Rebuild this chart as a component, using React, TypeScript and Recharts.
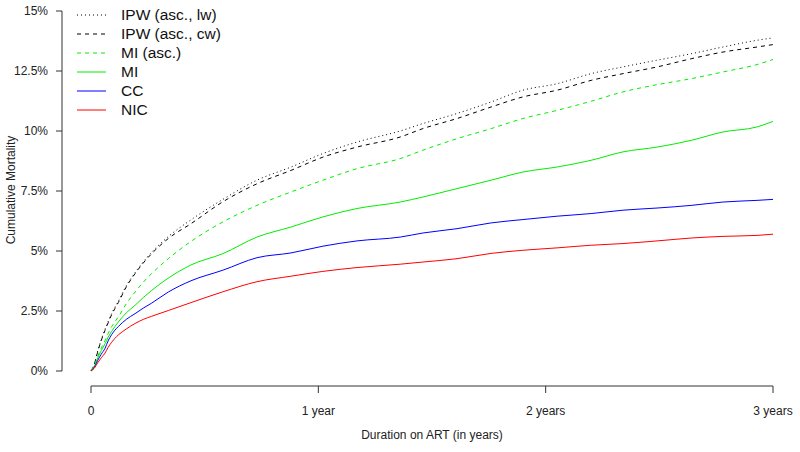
import React from 'react';
import { LineChart, Line, XAxis, YAxis, ReferenceLine } from 'recharts';

// years on ART
const years = [0, 0.015, 0.03, 0.045, 0.062, 0.075, 0.091, 0.105, 0.12, 0.155, 0.194, 0.23, 0.267, 0.34, 0.44, 0.58, 0.73, 0.88, 1.02, 1.17, 1.36, 1.46, 1.61, 1.76, 1.9, 2.05, 2.2, 2.34, 2.49, 2.64, 2.78, 2.93, 3.0];

// cumulative mortality, in %
const ipwLw = [0, 0.3, 0.85, 1.3, 1.75, 2.05, 2.4, 2.65, 2.9, 3.55, 4.1, 4.55, 4.95, 5.6, 6.3, 7.15, 7.95, 8.5, 9.06, 9.54, 10.0, 10.31, 10.73, 11.21, 11.7, 11.97, 12.39, 12.67, 12.95, 13.22, 13.5, 13.78, 13.88];
const ipwCw = [0, 0.3, 0.82, 1.27, 1.7, 2.0, 2.35, 2.6, 2.85, 3.5, 4.06, 4.5, 4.89, 5.52, 6.14, 7.05, 7.8, 8.36, 8.91, 9.33, 9.75, 10.1, 10.52, 11.0, 11.42, 11.7, 12.11, 12.39, 12.67, 13.01, 13.29, 13.5, 13.6];
const miAsc = [0, 0.22, 0.62, 0.95, 1.28, 1.55, 1.85, 2.05, 2.25, 2.8, 3.29, 3.7, 4.06, 4.68, 5.4, 6.21, 6.9, 7.46, 7.95, 8.43, 8.85, 9.2, 9.68, 10.1, 10.52, 10.86, 11.24, 11.63, 11.93, 12.18, 12.46, 12.77, 12.98];
const mi = [0, 0.2, 0.55, 0.85, 1.14, 1.4, 1.65, 1.85, 2.04, 2.42, 2.74, 3.06, 3.36, 3.87, 4.42, 4.89, 5.58, 6.0, 6.42, 6.77, 7.04, 7.25, 7.6, 7.95, 8.29, 8.5, 8.78, 9.13, 9.33, 9.61, 9.96, 10.17, 10.4];
const cc = [0, 0.16, 0.45, 0.7, 0.95, 1.25, 1.52, 1.7, 1.85, 2.15, 2.39, 2.62, 2.83, 3.29, 3.76, 4.2, 4.72, 4.92, 5.2, 5.42, 5.58, 5.75, 5.93, 6.17, 6.31, 6.45, 6.56, 6.7, 6.79, 6.9, 7.04, 7.11, 7.15];
const nic = [0, 0.12, 0.35, 0.55, 0.75, 0.98, 1.2, 1.36, 1.5, 1.75, 1.98, 2.15, 2.28, 2.52, 2.85, 3.3, 3.72, 3.95, 4.15, 4.31, 4.45, 4.54, 4.68, 4.9, 5.03, 5.13, 5.24, 5.31, 5.42, 5.54, 5.61, 5.65, 5.7];

const xTicks = [0, 1, 2, 3];
const xTickLabels = ['0', '1 year', '2 years', '3 years'];
const yTicks = [0, 2.5, 5, 7.5, 10, 12.5, 15];

const series = [
  { key: 'ipwLw', name: 'IPW (asc., lw)', color: '#000000', dash: '1 3' },
  { key: 'ipwCw', name: 'IPW (asc., cw)', color: '#000000', dash: '4 4' },
  { key: 'miAsc', name: 'MI (asc.)', color: '#00ee00', dash: '4 4' },
  { key: 'mi', name: 'MI', color: '#00ee00', dash: undefined },
  { key: 'cc', name: 'CC', color: '#0000ff', dash: undefined },
  { key: 'nic', name: 'NIC', color: '#ff0000', dash: undefined },
];

const data = years.map((t, i) => ({
  t,
  ipwLw: ipwLw[i],
  ipwCw: ipwCw[i],
  miAsc: miAsc[i],
  mi: mi[i],
  cc: cc[i],
  nic: nic[i],
}));

const FONT = '"Liberation Sans", Arial, sans-serif';
const AXIS = '#333';

const XTick = (props: any) => {
  const { x, payload } = props;
  const idx = xTicks.indexOf(payload.value);
  return (
    <g>
      <line x1={x} x2={x} y1={386} y2={393} stroke={AXIS} />
      <text x={x} y={415} textAnchor="middle" fontSize={12} fill="#222" fontFamily={FONT}>
        {xTickLabels[idx]}
      </text>
    </g>
  );
};

const Legend = () => (
  <div style={{ position: 'absolute', left: 76, top: 5, fontFamily: FONT, fontSize: 15.5, color: '#111' }}>
    {series.map((s) => (
      <div key={s.key} style={{ display: 'flex', alignItems: 'center', height: 19 }}>
        <svg width={32} height={10} style={{ marginRight: 13 }}>
          <line x1={1} x2={30} y1={5} y2={5} stroke={s.color} strokeDasharray={s.dash} />
        </svg>
        <span>{s.name}</span>
      </div>
    ))}
  </div>
);

export default function App() {
  return (
    <div style={{ position: 'absolute', left: 0, top: 0, width: 800, height: 452, background: '#fff', fontFamily: FONT }}>
      <LineChart width={800} height={452} data={data} margin={{ top: 11, right: 27, bottom: 0, left: 0 }}>
        <XAxis
          dataKey="t"
          type="number"
          domain={[0, 3]}
          ticks={xTicks}
          padding={{ left: 29, right: 0 }}
          height={81}
          axisLine={false}
          tickLine={false}
          tick={<XTick />}
          interval={0}
        />
        <YAxis
          type="number"
          domain={[0, 15]}
          ticks={yTicks}
          width={62}
          interval={0}
          tickFormatter={(v: number) => `${v}%`}
          tick={{ fontSize: 12, fill: '#222', fontFamily: FONT }}
          tickSize={6}
          tickMargin={8}
          stroke={AXIS}
        />
        <ReferenceLine
          segment={[{ x: 0, y: -0.625 }, { x: 3, y: -0.625 }]}
          stroke={AXIS}
          ifOverflow="visible"
        />
        {series.map((s) => (
          <Line
            key={s.key}
            dataKey={s.key}
            name={s.name}
            type="monotone"
            stroke={s.color}
            strokeWidth={1}
            strokeDasharray={s.dash}
            dot={false}
            activeDot={false}
            isAnimationActive={false}
          />
        ))}
      </LineChart>
      <Legend />
      <div style={{ position: 'absolute', left: 0, top: 0, width: 800, height: 452, pointerEvents: 'none' }}>
        <svg width={800} height={452}>
          <text x={432} y={439} textAnchor="middle" fontSize={12} fill="#222" fontFamily={FONT}>
            Duration on ART (in years)
          </text>
          <text x={15} y={190} textAnchor="middle" fontSize={12} fill="#222" fontFamily={FONT} transform="rotate(-90 15 190)">
            Cumulative Mortality
          </text>
        </svg>
      </div>
    </div>
  );
}
